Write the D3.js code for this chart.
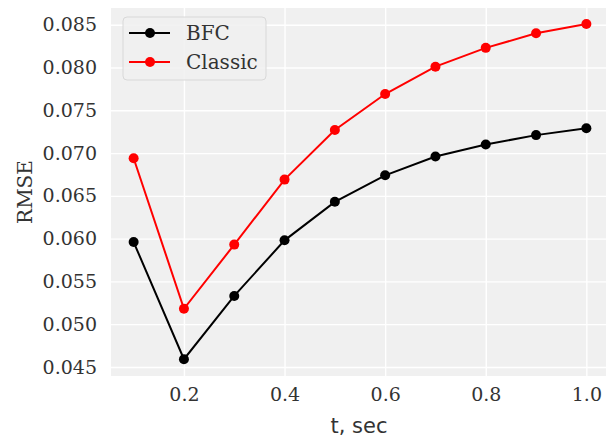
<!DOCTYPE html>
<html>
<head>
<meta charset="utf-8">
<script src="https://cdn.jsdelivr.net/npm/d3@7"></script>
<style>
  body { margin: 0; background: #fff; }
  svg text { font-family: "DejaVu Serif", serif; }
</style>
</head>
<body>
<div id="chart"></div>
<script>
var tValues = [0.1, 0.2, 0.3, 0.4, 0.5, 0.6, 0.7, 0.8, 0.9, 1.0];
var bfcValues = [0.0596, 0.0459, 0.0533, 0.0598, 0.0643, 0.0674, 0.0696, 0.0710, 0.0721, 0.0729];
var classicValues = [0.0694, 0.0518, 0.0593, 0.0669, 0.0727, 0.0769, 0.0801, 0.0823, 0.0840, 0.0851];
var xTicks = [0.2, 0.4, 0.6, 0.8, 1.0];
var yTicks = [0.045, 0.050, 0.055, 0.060, 0.065, 0.070, 0.075, 0.080, 0.085];
var seriesNames = ["BFC", "Classic"];
var seriesColors = ["#000000", "#ff0000"];

var width = 606, height = 441;
var plot = {left: 111, right: 609, top: 8, bottom: 376};

var svg = d3.select("#chart").append("svg")
    .attr("width", width)
    .attr("height", height);

var xScale = d3.scaleLinear()
    .domain([0.055, 1.045])
    .range([plot.left, plot.right]);

var yScale = d3.scaleLinear()
    .domain([0.04394, 0.08696])
    .range([plot.bottom, plot.top]);

// plot background
svg.append("rect")
    .attr("x", plot.left)
    .attr("y", plot.top)
    .attr("width", plot.right - plot.left)
    .attr("height", plot.bottom - plot.top)
    .attr("fill", "#f0f0f0");

// grid lines
svg.append("g")
    .attr("transform", "translate(0," + plot.bottom + ")")
    .call(d3.axisBottom(xScale).tickValues(xTicks).tickSize(-(plot.bottom - plot.top)).tickFormat(""))
    .call(g => g.select(".domain").remove())
    .call(g => g.selectAll("line").attr("stroke", "#fff").attr("stroke-width", 1.4));

svg.append("g")
    .attr("transform", "translate(" + plot.left + ",0)")
    .call(d3.axisLeft(yScale).tickValues(yTicks).tickSize(-(plot.right - plot.left)).tickFormat(""))
    .call(g => g.select(".domain").remove())
    .call(g => g.selectAll("line").attr("stroke", "#fff").attr("stroke-width", 1.4));

// tick labels
var xAxis = svg.append("g")
    .attr("transform", "translate(0," + plot.bottom + ")")
    .call(d3.axisBottom(xScale).tickValues(xTicks).tickSize(0).tickPadding(12).tickFormat(d3.format(".1f")));
xAxis.select(".domain").remove();
xAxis.selectAll("text").attr("font-size", 19).attr("fill", "#333").style("font-family", "DejaVu Serif");

var yAxis = svg.append("g")
    .attr("transform", "translate(" + plot.left + ",0)")
    .call(d3.axisLeft(yScale).tickValues(yTicks).tickSize(0).tickPadding(14).tickFormat(d3.format(".3f")));
yAxis.select(".domain").remove();
yAxis.selectAll("text").attr("font-size", 19).attr("fill", "#333").style("font-family", "DejaVu Serif");

// axis titles
svg.append("text")
    .attr("x", (plot.left + plot.right) / 2 - 1)
    .attr("y", 433)
    .attr("text-anchor", "middle")
    .attr("font-size", 21)
    .attr("fill", "#333")
    .style("font-family", "DejaVu Sans")
    .text("t, sec");

svg.append("text")
    .attr("transform", "translate(32," + (plot.top + plot.bottom) / 2 + ") rotate(-90)")
    .attr("text-anchor", "middle")
    .attr("font-size", 20)
    .attr("fill", "#333")
    .text("RMSE");

// lines + markers
var line = d3.line()
    .x(function(d, i) { return xScale(tValues[i]); })
    .y(function(d) { return yScale(d); });

[bfcValues, classicValues].forEach(function(values, k) {
    svg.append("path")
        .datum(values)
        .attr("d", line)
        .attr("fill", "none")
        .attr("stroke", seriesColors[k])
        .attr("stroke-width", 2);

    svg.selectAll(".dot" + k)
        .data(values)
        .enter().append("circle")
        .attr("class", "dot" + k)
        .attr("cx", function(d, i) { return xScale(tValues[i]); })
        .attr("cy", function(d) { return yScale(d); })
        .attr("r", 5)
        .attr("fill", seriesColors[k]);
});

// legend
var legend = svg.append("g").attr("transform", "translate(123,17)");
legend.append("rect")
    .attr("width", 143)
    .attr("height", 63)
    .attr("rx", 4)
    .attr("fill", "#f0f0f0")
    .attr("fill-opacity", 0.85)
    .attr("stroke", "#d8d8d8")
    .attr("stroke-width", 1);

seriesNames.forEach(function(name, k) {
    var y = 16 + k * 29;
    legend.append("line")
        .attr("x1", 6).attr("x2", 47)
        .attr("y1", y).attr("y2", y)
        .attr("stroke", seriesColors[k])
        .attr("stroke-width", 2);
    legend.append("circle")
        .attr("cx", 27).attr("cy", y).attr("r", 5)
        .attr("fill", seriesColors[k]);
    legend.append("text")
        .attr("x", 63).attr("y", y + 7)
        .attr("font-size", 20)
        .attr("fill", "#333")
        .text(name);
});
</script>
</body>
</html>
